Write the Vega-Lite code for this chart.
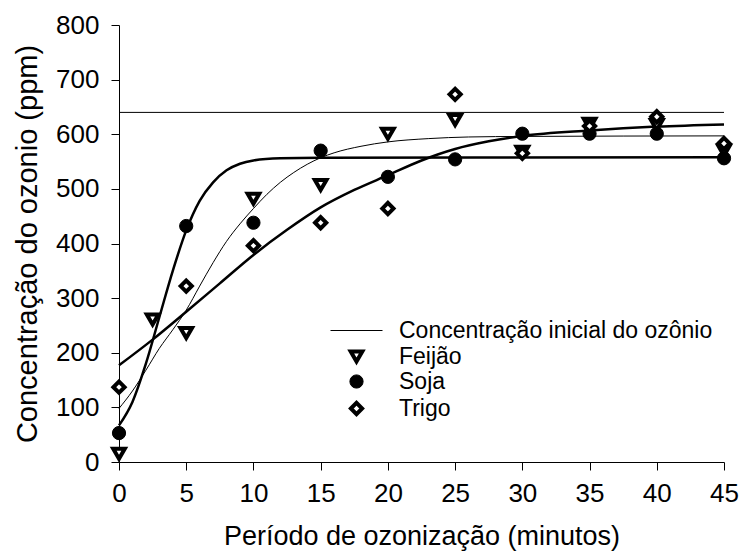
{
  "$schema": "https://vega.github.io/schema/vega-lite/v6.json",
  "autosize": {"type": "none"},
  "padding": {"left": 119, "top": 25, "right": 21, "bottom": 92},
  "width": 605,
  "height": 437,
  "background": "white",
  "config": {
    "view": {"stroke": null},
    "font": "Liberation Sans",
    "axis": {
      "grid": false,
      "domainColor": "black",
      "domainWidth": 1,
      "tickColor": "black",
      "tickWidth": 1,
      "tickSize": 8,
      "labelColor": "black",
      "labelFont": "Liberation Sans",
      "labelFontSize": 26,
      "labelFlush": false,
      "labelOverlap": false,
      "titleColor": "black",
      "titleFont": "Liberation Sans",
      "titleFontWeight": "normal"
    },
    "legend": {
      "labelFont": "Liberation Sans",
      "labelFontSize": 23,
      "labelColor": "black",
      "labelLimit": 500
    }
  },
  "datasets": {
    "pontos": [
      {"tempo": 0, "ozonio": 15, "serie": "Feijão"},
      {"tempo": 2.5, "ozonio": 261, "serie": "Feijão"},
      {"tempo": 5, "ozonio": 236, "serie": "Feijão"},
      {"tempo": 10, "ozonio": 482, "serie": "Feijão"},
      {"tempo": 15, "ozonio": 507, "serie": "Feijão"},
      {"tempo": 20, "ozonio": 601, "serie": "Feijão"},
      {"tempo": 25, "ozonio": 626, "serie": "Feijão"},
      {"tempo": 30, "ozonio": 568, "serie": "Feijão"},
      {"tempo": 35, "ozonio": 619, "serie": "Feijão"},
      {"tempo": 40, "ozonio": 617, "serie": "Feijão"},
      {"tempo": 45, "ozonio": 570, "serie": "Feijão"},
      {"tempo": 0, "ozonio": 53, "serie": "Soja"},
      {"tempo": 5, "ozonio": 432, "serie": "Soja"},
      {"tempo": 10, "ozonio": 438, "serie": "Soja"},
      {"tempo": 15, "ozonio": 570, "serie": "Soja"},
      {"tempo": 20, "ozonio": 522, "serie": "Soja"},
      {"tempo": 25, "ozonio": 554, "serie": "Soja"},
      {"tempo": 30, "ozonio": 601, "serie": "Soja"},
      {"tempo": 35, "ozonio": 601, "serie": "Soja"},
      {"tempo": 40, "ozonio": 601, "serie": "Soja"},
      {"tempo": 45, "ozonio": 556, "serie": "Soja"},
      {"tempo": 0, "ozonio": 137, "serie": "Trigo"},
      {"tempo": 5, "ozonio": 322, "serie": "Trigo"},
      {"tempo": 10, "ozonio": 396, "serie": "Trigo"},
      {"tempo": 15, "ozonio": 438, "serie": "Trigo"},
      {"tempo": 20, "ozonio": 464, "serie": "Trigo"},
      {"tempo": 25, "ozonio": 673, "serie": "Trigo"},
      {"tempo": 30, "ozonio": 565, "serie": "Trigo"},
      {"tempo": 35, "ozonio": 615, "serie": "Trigo"},
      {"tempo": 40, "ozonio": 632, "serie": "Trigo"},
      {"tempo": 45, "ozonio": 583, "serie": "Trigo"}
    ],
    "curvas": [
      {"tempo": 0, "ozonio": 640, "curva": "Inicial", "espessura": "fina"},
      {"tempo": 45, "ozonio": 640, "curva": "Inicial", "espessura": "fina"},
      {"tempo": 0, "ozonio": 98, "curva": "Feijão", "espessura": "fina"},
      {"tempo": 1, "ozonio": 130, "curva": "Feijão", "espessura": "fina"},
      {"tempo": 2, "ozonio": 168, "curva": "Feijão", "espessura": "fina"},
      {"tempo": 3, "ozonio": 208, "curva": "Feijão", "espessura": "fina"},
      {"tempo": 4, "ozonio": 242, "curva": "Feijão", "espessura": "fina"},
      {"tempo": 5, "ozonio": 278, "curva": "Feijão", "espessura": "fina"},
      {"tempo": 6, "ozonio": 322, "curva": "Feijão", "espessura": "fina"},
      {"tempo": 7, "ozonio": 365, "curva": "Feijão", "espessura": "fina"},
      {"tempo": 8, "ozonio": 404, "curva": "Feijão", "espessura": "fina"},
      {"tempo": 9, "ozonio": 436, "curva": "Feijão", "espessura": "fina"},
      {"tempo": 10, "ozonio": 464, "curva": "Feijão", "espessura": "fina"},
      {"tempo": 11, "ozonio": 490, "curva": "Feijão", "espessura": "fina"},
      {"tempo": 12, "ozonio": 512, "curva": "Feijão", "espessura": "fina"},
      {"tempo": 13, "ozonio": 530, "curva": "Feijão", "espessura": "fina"},
      {"tempo": 14, "ozonio": 545, "curva": "Feijão", "espessura": "fina"},
      {"tempo": 15, "ozonio": 557, "curva": "Feijão", "espessura": "fina"},
      {"tempo": 16, "ozonio": 566, "curva": "Feijão", "espessura": "fina"},
      {"tempo": 18, "ozonio": 578, "curva": "Feijão", "espessura": "fina"},
      {"tempo": 20, "ozonio": 586, "curva": "Feijão", "espessura": "fina"},
      {"tempo": 23, "ozonio": 592, "curva": "Feijão", "espessura": "fina"},
      {"tempo": 26, "ozonio": 595, "curva": "Feijão", "espessura": "fina"},
      {"tempo": 30, "ozonio": 596, "curva": "Feijão", "espessura": "fina"},
      {"tempo": 45, "ozonio": 597, "curva": "Feijão", "espessura": "fina"},
      {"tempo": 0, "ozonio": 67, "curva": "Soja", "espessura": "grossa"},
      {"tempo": 1, "ozonio": 110, "curva": "Soja", "espessura": "grossa"},
      {"tempo": 2, "ozonio": 180, "curva": "Soja", "espessura": "grossa"},
      {"tempo": 3, "ozonio": 265, "curva": "Soja", "espessura": "grossa"},
      {"tempo": 4, "ozonio": 350, "curva": "Soja", "espessura": "grossa"},
      {"tempo": 5, "ozonio": 424, "curva": "Soja", "espessura": "grossa"},
      {"tempo": 6, "ozonio": 478, "curva": "Soja", "espessura": "grossa"},
      {"tempo": 7, "ozonio": 512, "curva": "Soja", "espessura": "grossa"},
      {"tempo": 8, "ozonio": 534, "curva": "Soja", "espessura": "grossa"},
      {"tempo": 9, "ozonio": 546, "curva": "Soja", "espessura": "grossa"},
      {"tempo": 10, "ozonio": 552, "curva": "Soja", "espessura": "grossa"},
      {"tempo": 12, "ozonio": 556, "curva": "Soja", "espessura": "grossa"},
      {"tempo": 15, "ozonio": 557, "curva": "Soja", "espessura": "grossa"},
      {"tempo": 45, "ozonio": 558, "curva": "Soja", "espessura": "grossa"},
      {"tempo": 0, "ozonio": 177, "curva": "Trigo", "espessura": "grossa"},
      {"tempo": 2.5, "ozonio": 224, "curva": "Trigo", "espessura": "grossa"},
      {"tempo": 5, "ozonio": 275, "curva": "Trigo", "espessura": "grossa"},
      {"tempo": 7.5, "ozonio": 327, "curva": "Trigo", "espessura": "grossa"},
      {"tempo": 10, "ozonio": 379, "curva": "Trigo", "espessura": "grossa"},
      {"tempo": 12.5, "ozonio": 425, "curva": "Trigo", "espessura": "grossa"},
      {"tempo": 15, "ozonio": 466, "curva": "Trigo", "espessura": "grossa"},
      {"tempo": 17.5, "ozonio": 498, "curva": "Trigo", "espessura": "grossa"},
      {"tempo": 20, "ozonio": 525, "curva": "Trigo", "espessura": "grossa"},
      {"tempo": 22.5, "ozonio": 552, "curva": "Trigo", "espessura": "grossa"},
      {"tempo": 25, "ozonio": 573, "curva": "Trigo", "espessura": "grossa"},
      {"tempo": 27.5, "ozonio": 587, "curva": "Trigo", "espessura": "grossa"},
      {"tempo": 30, "ozonio": 597, "curva": "Trigo", "espessura": "grossa"},
      {"tempo": 35, "ozonio": 607, "curva": "Trigo", "espessura": "grossa"},
      {"tempo": 40, "ozonio": 614, "curva": "Trigo", "espessura": "grossa"},
      {"tempo": 45, "ozonio": 618, "curva": "Trigo", "espessura": "grossa"}
    ]
  },
  "encoding": {
    "x": {
      "field": "tempo",
      "type": "quantitative",
      "scale": {"domain": [0, 45], "nice": false, "zero": false},
      "axis": {
        "values": [0, 5, 10, 15, 20, 25, 30, 35, 40, 45],
        "title": "Período de ozonização (minutos)",
        "titleFontSize": 27,
        "titlePadding": 17,
        "labelPadding": 10
      }
    },
    "y": {
      "field": "ozonio",
      "type": "quantitative",
      "scale": {"domain": [0, 800], "nice": false},
      "axis": {
        "values": [0, 100, 200, 300, 400, 500, 600, 700, 800],
        "title": "Concentração do ozonio (ppm)",
        "titleFontSize": 29,
        "titlePadding": 13,
        "labelPadding": 12
      }
    }
  },
  "layer": [
    {
      "data": {"name": "curvas"},
      "transform": [{"filter": "datum.espessura === 'fina'"}],
      "mark": {"type": "line", "color": "black", "strokeWidth": 1, "interpolate": "monotone"},
      "encoding": {"detail": {"field": "curva"}}
    },
    {
      "data": {"name": "curvas"},
      "transform": [{"filter": "datum.espessura === 'grossa'"}],
      "mark": {"type": "line", "color": "black", "strokeWidth": 2.5, "interpolate": "monotone"},
      "encoding": {"detail": {"field": "curva"}}
    },
    {
      "data": {"name": "pontos"},
      "mark": {"type": "point", "filled": true, "stroke": "black", "opacity": 1},
      "encoding": {
        "shape": {
          "field": "serie",
          "type": "nominal",
          "scale": {
            "type": "ordinal",
            "domain": ["Concentração inicial do ozônio", "Feijão", "Soja", "Trigo"],
            "range": ["stroke", "triangle-down", "circle", "diamond"]
          },
          "legend": {
            "title": null,
            "orient": "none",
            "legendX": 211,
            "legendY": 279,
            "labelOffset": 16,
            "rowPadding": 0,
            "symbolStrokeColor": "black"
          }
        },
        "fill": {
          "field": "serie",
          "type": "nominal",
          "scale": {
            "type": "ordinal",
            "domain": ["Concentração inicial do ozônio", "Feijão", "Soja", "Trigo"],
            "range": ["black", "white", "black", "white"]
          }
        },
        "size": {
          "field": "serie",
          "type": "nominal",
          "scale": {
            "type": "ordinal",
            "domain": ["Concentração inicial do ozônio", "Feijão", "Soja", "Trigo"],
            "range": [2704, 135, 175, 125]
          }
        },
        "strokeWidth": {
          "field": "serie",
          "type": "nominal",
          "scale": {
            "type": "ordinal",
            "domain": ["Concentração inicial do ozônio", "Feijão", "Soja", "Trigo"],
            "range": [1, 4, 1, 4]
          }
        }
      }
    }
  ]
}
